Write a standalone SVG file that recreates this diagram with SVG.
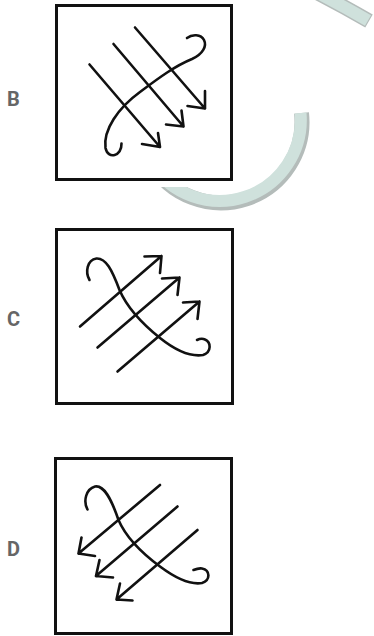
<svg xmlns="http://www.w3.org/2000/svg" width="374" height="636" viewBox="0 0 374 636">
<style>
.bg{fill:#ffffff}
.band-o{fill:none;stroke:#b4bcba;stroke-width:15}
.band-i{fill:none;stroke:#cfe1dc;stroke-width:12}
.box{fill:#ffffff;stroke:#111111;stroke-width:3}
.ln{fill:none;stroke:#111111;stroke-width:2.6;stroke-linecap:round;stroke-linejoin:round}
.lbl{font-family:Roboto,"Liberation Sans",sans-serif;font-weight:bold;font-size:20px;fill:#666666}
</style>
<rect class="bg" x="0" y="0" width="374" height="636"/>
<g id="watermark">
<path class="band-o" d="M301.5,113 A81,81 0 0 1 150.9,162.5"/>
<path class="band-i" d="M300.5,113 A81,81 0 0 1 150.9,162.5"/>
<path class="band-o" d="M316,-8 Q343,6 369,21"/>
<path class="band-i" d="M316,-8 Q343,6 368,20.5"/>
<rect class="bg" x="50" y="0" width="192" height="187"/>
</g>
<g id="option-B">
<text class="lbl" x="7" y="105.5">B</text>
<rect class="box" x="56.5" y="5.5" width="175" height="174"/>
<path class="ln" d="M89.5,64.5 L160,147 M142,144 L160,147 L158,133"/>
<path class="ln" d="M113.5,44 L183.5,126.5 M166,124.5 L183.5,126.5 L181.5,110.5"/>
<path class="ln" d="M135,27.5 L205,108.5 M187.5,106 L205,108.5 L205,91"/>
<path class="ln" d="M121.5,143.5 C122,156 108,160 105.5,148 C103,130 118,108 140,92 C160,77 175,66 192,59 C203,54 207,46 204,40 C201,34 192,34 187,38"/>
</g>
<g id="option-C">
<text class="lbl" x="7" y="325.5">C</text>
<rect class="box" x="56.5" y="229.5" width="176" height="174"/>
<path class="ln" d="M80,326.5 L161.5,256 M144.5,256.5 L161.5,256 L160,273"/>
<path class="ln" d="M97.5,347.5 L179.5,277.5 M162,278.5 L179.5,277.5 L177.5,295"/>
<path class="ln" d="M117.5,371.5 L199.5,301.5 M183,302.5 L199.5,301.5 L197.5,319"/>
<path class="ln" d="M89.5,280 C85,272 87,260 96.5,258.5 C106,258 112,270 119.5,290 C126,305 140,322 160,338 C175,350 190,357 203,355 C212,352 211,342 205,339.5 C202,338 199,339 197,340"/>
</g>
<g id="option-D">
<text class="lbl" x="7" y="555.5">D</text>
<rect class="box" x="55.5" y="458.5" width="176" height="175"/>
<path class="ln" d="M160,485 L78.5,553.5 M81.5,537.5 L78.5,553.5 L95,556"/>
<path class="ln" d="M177.5,506.5 L96,576 M99.5,560 L96,576 L113,577.5"/>
<path class="ln" d="M197.5,530 L116.5,599.5 M120,583.5 L116.5,599.5 L132.5,600.5"/>
<path class="ln" d="M87.5,509.5 C83,501 86,489 95,486.5 C104,485 111,498 118.5,520 C125,535 139,551 160,566.5 C174,577 190,585 202,583 C211,580 210,570 202,568.5 C199,568 196,569 193.5,570"/>
</g>
</svg>
